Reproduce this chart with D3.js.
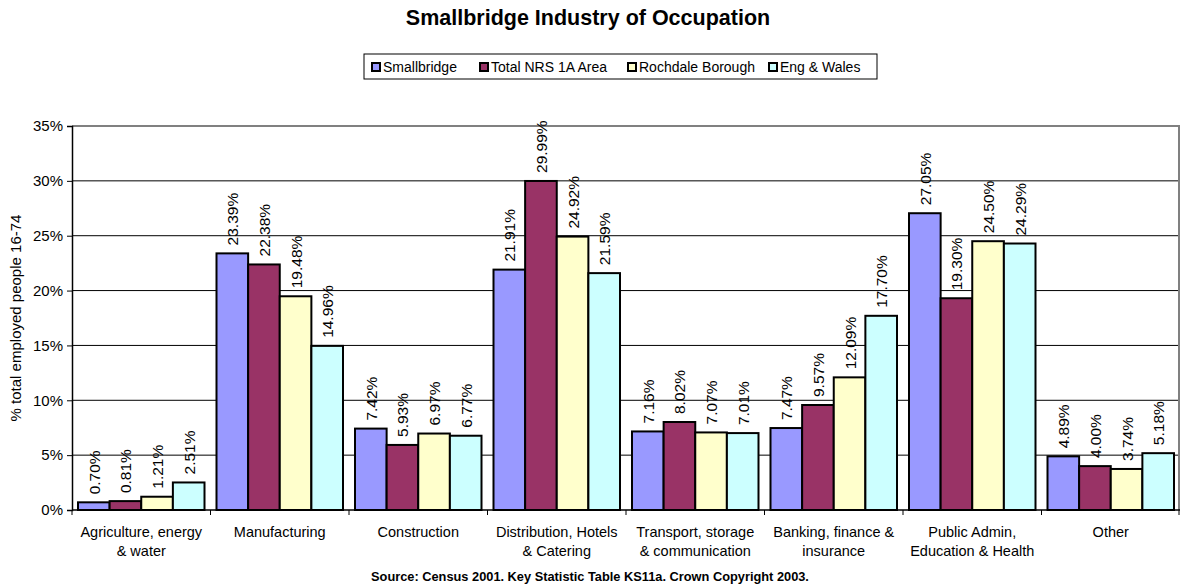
<!DOCTYPE html>
<html>
<head>
<meta charset="utf-8">
<script src="https://cdn.jsdelivr.net/npm/d3@7"></script>
<style>
  body { margin: 0; background: #fff; }
  svg { font-family: Arial, "Liberation Sans", sans-serif; }
</style>
</head>
<body>
<svg width="1181" height="588"></svg>
<script>
const categories = [
  ["Agriculture, energy", "& water"],
  ["Manufacturing"],
  ["Construction"],
  ["Distribution, Hotels", "& Catering"],
  ["Transport, storage", "& communication"],
  ["Banking, finance &", "insurance"],
  ["Public Admin,", "Education & Health"],
  ["Other"]
];
const seriesNames = ["Smallbridge", "Total NRS 1A Area", "Rochdale Borough", "Eng & Wales"];
const seriesColors = ["#9999FF", "#993366", "#FFFFCC", "#CCFFFF"];
const smallbridge = [0.70, 23.39, 7.42, 21.91, 7.16, 7.47, 27.05, 4.89];
const nrs1a = [0.81, 22.38, 5.93, 29.99, 8.02, 9.57, 19.30, 4.00];
const rochdale = [1.21, 19.48, 6.97, 24.92, 7.07, 12.09, 24.50, 3.74];
const engWales = [2.51, 14.96, 6.77, 21.59, 7.01, 17.70, 24.29, 5.18];
const yTicks = [0, 5, 10, 15, 20, 25, 30, 35];

const series = [smallbridge, nrs1a, rochdale, engWales];
const plotLeft = 72, plotRight = 1180, plotTop = 126, plotBottom = 510;

const svg = d3.select("svg");

const x = d3.scaleBand()
  .domain(d3.range(categories.length))
  .range([plotLeft, plotRight]);

const xInner = d3.scaleBand()
  .domain(d3.range(series.length))
  .range([6, x.bandwidth() - 6]);

const y = d3.scaleLinear().domain([0, 35]).range([plotBottom, plotTop]);

// title
svg.append("text")
  .attr("x", 588).attr("y", 25)
  .attr("text-anchor", "middle")
  .style("font-size", "21.5px").style("font-weight", "bold")
  .text("Smallbridge Industry of Occupation");

// gridlines
svg.append("g")
  .selectAll("line")
  .data(yTicks.slice(1))
  .enter().append("line")
  .attr("x1", plotLeft).attr("x2", plotRight)
  .attr("y1", d => y(d)).attr("y2", d => y(d))
  .attr("stroke", d => d === 35 ? "#808080" : "#000")
  .attr("stroke-width", d => d === 35 ? 2 : 1);

svg.append("line")
  .attr("x1", plotRight - 1).attr("x2", plotRight - 1)
  .attr("y1", plotTop).attr("y2", plotBottom)
  .attr("stroke", "#808080").attr("stroke-width", 2);

// bars
const groups = svg.append("g")
  .selectAll("g")
  .data(categories.map((c, i) => i))
  .enter().append("g")
  .attr("transform", i => `translate(${x(i)},0)`);

groups.selectAll("rect")
  .data(i => series.map((s, j) => ({ j, v: s[i] })))
  .enter().append("rect")
  .attr("x", d => xInner(d.j))
  .attr("width", xInner.bandwidth())
  .attr("y", d => y(d.v))
  .attr("height", d => plotBottom - y(d.v))
  .attr("fill", d => seriesColors[d.j])
  .attr("stroke", "#000")
  .attr("stroke-width", 2);

groups.selectAll("text")
  .data(i => series.map((s, j) => ({ j, v: s[i] })))
  .enter().append("text")
  .attr("transform", d => `translate(${xInner(d.j) + xInner.bandwidth() / 2 + 6},${y(d.v) - 8}) rotate(-90)`)
  .style("font-size", "15.5px")
  .text(d => d.v.toFixed(2) + "%");

// y axis
const yAxis = svg.append("g")
  .attr("transform", `translate(${plotLeft},0)`)
  .call(d3.axisLeft(y).tickValues(yTicks).tickFormat(d => d + "%").tickSize(5).tickPadding(4));
yAxis.select(".domain").attr("stroke", "#000").attr("stroke-width", 1.5);
yAxis.selectAll("text").style("font-size", "15px").attr("fill", "#000");

// x axis
svg.append("line")
  .attr("x1", plotLeft).attr("x2", plotRight)
  .attr("y1", plotBottom).attr("y2", plotBottom)
  .attr("stroke", "#000").attr("stroke-width", 1.5);

svg.append("g")
  .selectAll("line")
  .data(d3.range(categories.length + 1))
  .enter().append("line")
  .attr("x1", i => i < categories.length ? x(i) : plotRight - 1)
  .attr("x2", i => i < categories.length ? x(i) : plotRight - 1)
  .attr("y1", plotBottom).attr("y2", plotBottom + 5)
  .attr("stroke", "#000");

const xl = svg.append("g")
  .selectAll("text")
  .data(categories)
  .enter().append("text")
  .attr("x", (c, i) => x(i) + x.bandwidth() / 2)
  .attr("y", 537)
  .attr("text-anchor", "middle")
  .style("font-size", "14.5px");
xl.selectAll("tspan")
  .data(c => c)
  .enter().append("tspan")
  .attr("x", function() { return this.parentNode.getAttribute("x"); })
  .attr("dy", (d, k) => k === 0 ? 0 : 19)
  .text(d => d);

// y label
svg.append("text")
  .attr("transform", "translate(21,318) rotate(-90)")
  .attr("text-anchor", "middle")
  .style("font-size", "15px")
  .text("% total employed people 16-74");

// legend
const legend = svg.append("g");
legend.append("rect")
  .attr("x", 364).attr("y", 54).attr("width", 513).attr("height", 25)
  .attr("fill", "#fff").attr("stroke", "#000").attr("stroke-width", 1);
const legendX = [371, 479, 627, 768];
seriesNames.forEach((name, j) => {
  legend.append("rect")
    .attr("x", legendX[j] + 1).attr("y", 63).attr("width", 8).attr("height", 8)
    .attr("fill", seriesColors[j]).attr("stroke", "#000").attr("stroke-width", 2);
  legend.append("text")
    .attr("x", legendX[j] + 12).attr("y", 72)
    .style("font-size", "14px")
    .text(name);
});

// source
svg.append("text")
  .attr("x", 590).attr("y", 581)
  .attr("text-anchor", "middle")
  .style("font-size", "12.8px").style("font-weight", "bold")
  .text("Source: Census 2001. Key Statistic Table KS11a. Crown Copyright 2003.");
</script>
</body>
</html>
